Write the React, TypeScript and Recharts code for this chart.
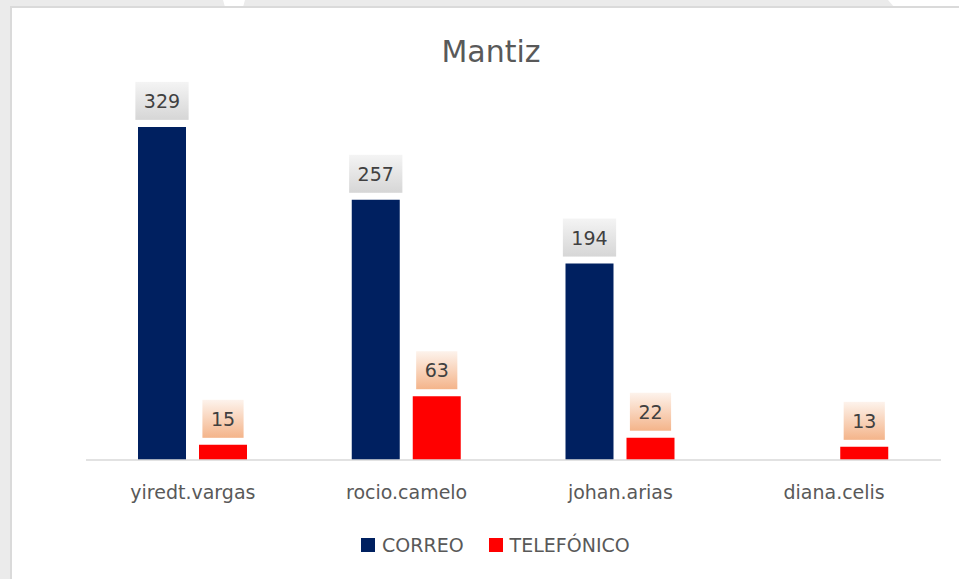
import React from "react";
import { BarChart, Bar, XAxis, YAxis, LabelList, Legend } from "recharts";

const categories = ["yiredt.vargas", "rocio.camelo", "johan.arias", "diana.celis"];
const correo: (number | null)[] = [329, 257, 194, null];
const telefonico: (number | null)[] = [15, 63, 22, 13];
const seriesNames = ["CORREO", "TELEFÓNICO"];
const seriesColors = ["#002060", "#ff0000"];
const title = "Mantiz";

const data = categories.map((c, i) => ({
  name: c,
  correo: correo[i],
  telefonico: telefonico[i],
}));

const FONT = "'DejaVu Sans', sans-serif";

const makeLabel = (gid: string, top: string, bottom: string) => (props: any) => {
  const { x, y, width, value } = props;
  if (value === null || value === undefined) return null;
  const s = String(value);
  const w = s.length * 0.636 * 19 + 17;
  const h = 38;
  const cx = Number(x) + Number(width) / 2;
  const bottomY = Number(y) - 7;
  const id = `${gid}-${s}-${Math.round(Number(x))}`;
  return (
    <g>
      <defs>
        <linearGradient id={id} x1="0" y1="0" x2="0" y2="1">
          <stop offset="0%" stopColor={top} />
          <stop offset="100%" stopColor={bottom} />
        </linearGradient>
      </defs>
      <rect x={cx - w / 2} y={bottomY - h} width={w} height={h} fill={`url(#${id})`} />
      <text
        x={cx}
        y={bottomY - h / 2 + 7}
        textAnchor="middle"
        fontFamily={FONT}
        fontSize={19}
        fill="#404040"
      >
        {s}
      </text>
    </g>
  );
};

const LegendContent = () => (
  <div style={{ display: "flex", alignItems: "center", fontFamily: FONT, fontSize: 19, color: "#595959" }}>
    {seriesNames.map((n, i) => (
      <div key={n} style={{ display: "flex", alignItems: "center", marginRight: i === 0 ? 25 : 0 }}>
        <div style={{ width: 14, height: 14, background: seriesColors[i], marginRight: 7 }} />
        <span style={{ lineHeight: "20px" }}>{n}</span>
      </div>
    ))}
  </div>
);

export default function App() {
  return (
    <div style={{ position: "absolute", left: 0, top: 0, width: 959, height: 579, background: "#ebebeb", overflow: "hidden" }}>
      <svg style={{ position: "absolute", left: 0, top: 0 }} width={959} height={8}>
        <polygon points="223,0 245,0 243,7 225,7" fill="#ffffff" />
        <polygon points="888,0 959,0 959,7 894,7" fill="#ffffff" />
      </svg>
      <div
        style={{
          position: "absolute",
          left: 10,
          top: 6,
          width: 960,
          height: 580,
          background: "#ffffff",
          borderLeft: "2px solid #dadada",
          borderTop: "2px solid #dadada",
        }}
      />
      <div
        style={{
          position: "absolute",
          left: 0,
          top: 36.6,
          width: 982,
          textAlign: "center",
          fontFamily: FONT,
          fontSize: 30,
          lineHeight: "30px",
          color: "#595959",
        }}
      >
        {title}
      </div>
      <div style={{ position: "absolute", left: 0, top: 0 }}>
        <BarChart
          width={959}
          height={579}
          data={data}
          margin={{ top: 55, right: 18, left: 86, bottom: 89 }}
          barGap={13}
        >
          <XAxis
            dataKey="name"
            height={30}
            tickLine={false}
            tickSize={0}
            tickMargin={26}
            axisLine={{ stroke: "#d9d9d9", strokeWidth: 1.5 }}
            tick={{ fill: "#595959", fontSize: 19, fontFamily: FONT }}
            interval={0}
          />
          <YAxis hide domain={[0, 400]} />
          <Legend
            layout="horizontal"
            verticalAlign="middle"
            align="center"
            wrapperStyle={{ position: "absolute", left: 361, top: 535, width: "auto" }}
            content={<LegendContent />}
          />
          <Bar dataKey="correo" name={seriesNames[0]} fill={seriesColors[0]} barSize={48} isAnimationActive={false}>
            <LabelList dataKey="correo" content={makeLabel("gc", "#f4f4f4", "#d6d6d6")} />
          </Bar>
          <Bar dataKey="telefonico" name={seriesNames[1]} fill={seriesColors[1]} barSize={48} isAnimationActive={false}>
            <LabelList dataKey="telefonico" content={makeLabel("gt", "#fdf3ec", "#f4b48a")} />
          </Bar>
        </BarChart>
      </div>
    </div>
  );
}
